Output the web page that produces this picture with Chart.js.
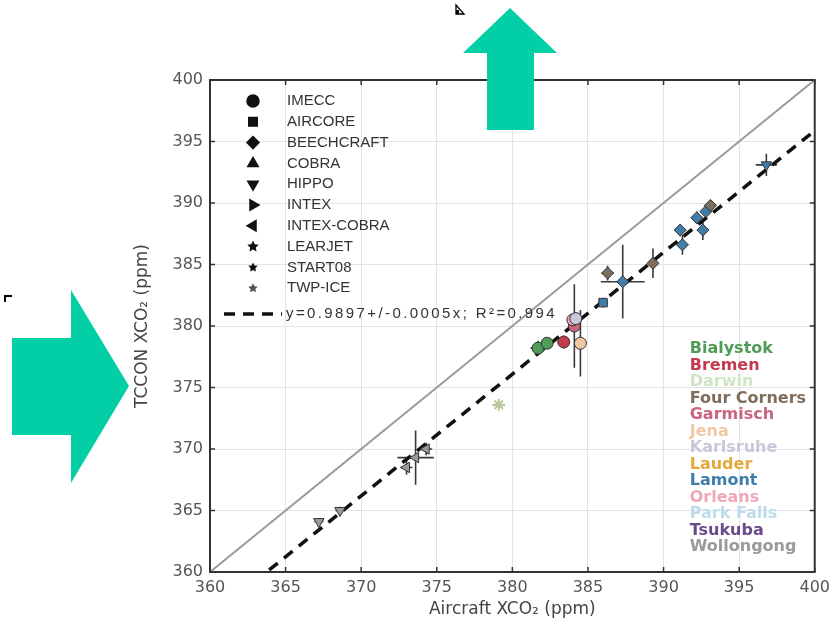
<!DOCTYPE html>
<html>
<head>
<meta charset="utf-8">
<script src="https://cdn.jsdelivr.net/npm/chart.js@4.4.1/dist/chart.umd.min.js"></script>
<style>
    html, body { margin: 0; padding: 0; background: #fff; }
    canvas { display: block; }
</style>
</head>
<body>
<canvas id="graficaXco2" width="836" height="626"></canvas>
<script>
// Sitios TCCON y su color
const sitios = ['Bialystok', 'Bremen', 'Darwin', 'Four Corners', 'Garmisch', 'Jena', 'Karlsruhe',
    'Lauder', 'Lamont', 'Orleans', 'Park Falls', 'Tsukuba', 'Wollongong'];
const coloresSitio = ['#4f9c57', '#c33a4f', '#cfe5c3', '#7e6c5d', '#c9667d', '#f2c8a2', '#cdc6da',
    '#e5a93b', '#3f7ea8', '#f1a8b6', '#bddcea', '#6a4a8b', '#9a9a9a'];

// Campañas de aviones
const campanas = ['IMECC', 'AIRCORE', 'BEECHCRAFT', 'COBRA', 'HIPPO', 'INTEX', 'INTEX-COBRA',
    'LEARJET', 'START08', 'TWP-ICE'];

// Comparaciones (ppm)
const avionX   = [367.2, 368.6, 373.0, 373.6, 374.3, 379.1, 381.7, 382.3, 383.4, 384.1, 384.0, 384.5, 384.2,
    386.0, 386.3, 387.3, 389.3, 391.1, 391.25, 392.2, 392.6, 392.8, 393.1, 396.8];
const tcconY   = [364.1, 365.0, 368.5, 369.3, 370.0, 373.6, 378.2, 378.6, 378.7, 380.0, 380.5, 378.6, 380.6,
    381.9, 384.3, 383.6, 385.1, 387.8, 386.6, 388.8, 387.8, 389.3, 389.8, 393.1];
const errX     = [0.3, 0.3, 0.4, 1.2, 0.4, 0.4, 0.5, 0.4, 0.3, 0.3, 0.3, 0.3, 0.3,
    0.3, 0.4, 1.45, 0.3, 0.3, 0.3, 0.3, 0.3, 0.3, 0.4, 0.7];
const errY     = [0.3, 0.3, 0.6, 2.2, 0.5, 0.2, 0.6, 0.4, 0.5, 3.4, 0.5, 2.7, 0.4,
    0.4, 0.6, 3.0, 1.2, 0.5, 0.8, 0.5, 0.8, 0.4, 0.3, 0.9];
const sitioIdx = [12, 12, 12, 12, 12, 2, 0, 0, 1, 4, 9, 5, 6,
    8, 3, 8, 3, 8, 8, 8, 8, 8, 3, 8];
const campIdx  = [4, 4, 6, 6, 6, 9, 0, 0, 0, 0, 0, 0, 0,
    1, 2, 2, 2, 2, 2, 2, 2, 2, 2, 4];

// Ajuste lineal
const PENDIENTE = 0.9897;
const etiquetaAjuste = 'y=0.9897+/-0.0005x; R²=0.994';

const FUENTE = '"DejaVu Sans", sans-serif';

// forma del marcador por campaña
const estilos = [
    { s: 'circle', r: 0 }, { s: 'rect', r: 0 }, { s: 'rectRot', r: 0 }, { s: 'triangle', r: 0 },
    { s: 'triangle', r: 180 }, { s: 'triangle', r: 90 }, { s: 'triangle', r: 270 },
    { s: 'estrella', r: 0 }, { s: 'estrella', r: 0 }, { s: 'star', r: 0 }
];

const puntos = avionX.map((x, i) => ({ x: x, y: tcconY[i], i: i }));

const estrella = (ctx, cx, cy, r) => {
    ctx.beginPath();
    for (let k = 0; k < 10; k++) {
        const a = -Math.PI / 2 + k * Math.PI / 5;
        const rr = k % 2 ? r * 0.5 : r;
        ctx.lineTo(cx + rr * Math.cos(a), cy + rr * Math.sin(a));
    }
    ctx.closePath();
    ctx.fill();
};

const barrasError = {
    id: 'barrasError',
    beforeDatasetsDraw(chart) {
        const { ctx, scales: { x, y } } = chart;
        ctx.save();
        ctx.strokeStyle = '#3a3a3a';
        ctx.lineWidth = 1.6;
        avionX.forEach((vx, i) => {
            const px = x.getPixelForValue(vx), py = y.getPixelForValue(tcconY[i]);
            ctx.beginPath();
            ctx.moveTo(x.getPixelForValue(vx - errX[i]), py);
            ctx.lineTo(x.getPixelForValue(vx + errX[i]), py);
            ctx.moveTo(px, y.getPixelForValue(tcconY[i] - errY[i]));
            ctx.lineTo(px, y.getPixelForValue(tcconY[i] + errY[i]));
            ctx.stroke();
        });
        ctx.restore();
    }
};

const marcoYLeyendas = {
    id: 'marcoYLeyendas',
    afterDraw(chart) {
        const { ctx, chartArea: a, scales: { x, y } } = chart;
        ctx.save();

        // marco y marcas interiores
        ctx.strokeStyle = '#333';
        ctx.lineWidth = 2;
        ctx.strokeRect(a.left, a.top, a.right - a.left, a.bottom - a.top);
        ctx.lineWidth = 1.5;
        ctx.beginPath();
        x.ticks.forEach(t => {
            const px = x.getPixelForValue(t.value);
            ctx.moveTo(px, a.bottom); ctx.lineTo(px, a.bottom - 5);
            ctx.moveTo(px, a.top); ctx.lineTo(px, a.top + 5);
        });
        y.ticks.forEach(t => {
            const py = y.getPixelForValue(t.value);
            ctx.moveTo(a.left, py); ctx.lineTo(a.left + 5, py);
            ctx.moveTo(a.right, py); ctx.lineTo(a.right - 5, py);
        });
        ctx.stroke();

        // leyenda de campañas
        ctx.font = '15px "Liberation Sans", sans-serif';
        ctx.textBaseline = 'middle';
        campanas.forEach((nombre, k) => {
            const cy = a.top + 21 + k * 20.8;
            const cx = a.left + 43;
            ctx.fillStyle = '#111';
            ctx.strokeStyle = '#111';
            const e = estilos[k];
            if (e.s === 'estrella') {
                estrella(ctx, cx, cy, k === 7 ? 6 : 5);
            } else if (e.s === 'star') {
                ctx.fillStyle = '#555';
                estrella(ctx, cx, cy, 5);
            } else {
                Chart.helpers.drawPoint(ctx, { pointStyle: e.s, radius: 6, rotation: e.r, borderWidth: 1 }, cx, cy);
            }
            ctx.fillStyle = '#333';
            ctx.fillText(nombre, a.left + 77, cy);
        });
        const fy = a.top + 234;
        ctx.strokeStyle = '#111';
        ctx.lineWidth = 3.5;
        ctx.setLineDash([11, 8]);
        ctx.beginPath();
        ctx.moveTo(a.left + 14, fy); ctx.lineTo(a.left + 72, fy);
        ctx.stroke();
        ctx.setLineDash([]);
        ctx.fillStyle = '#333';
        ctx.letterSpacing = '2.4px';
        ctx.fillText(etiquetaAjuste, a.left + 76, fy);
        ctx.letterSpacing = '0px';

        // leyenda de sitios
        ctx.font = 'bold 16px "DejaVu Sans", sans-serif';
        sitios.forEach((nombre, k) => {
            ctx.fillStyle = coloresSitio[k];
            ctx.fillText(nombre, a.right - 125, a.top + 269 + k * 16.5);
        });

        // flechas
        ctx.fillStyle = '#02cfa6';
        ctx.beginPath();
        ctx.moveTo(510, 8); ctx.lineTo(557, 53); ctx.lineTo(534, 53); ctx.lineTo(534, 130);
        ctx.lineTo(487, 130); ctx.lineTo(487, 53); ctx.lineTo(463, 53);
        ctx.closePath(); ctx.fill();
        ctx.beginPath();
        ctx.moveTo(129, 386); ctx.lineTo(71, 483); ctx.lineTo(71, 435); ctx.lineTo(12, 435);
        ctx.lineTo(12, 338); ctx.lineTo(71, 338); ctx.lineTo(71, 290);
        ctx.closePath(); ctx.fill();

        // marcas pequeñas
        ctx.fillStyle = '#000';
        ctx.fillRect(4, 295, 8, 2);
        ctx.fillRect(4, 295, 2, 7);
        ctx.strokeStyle = '#000';
        ctx.lineWidth = 1.3;
        ctx.beginPath();
        ctx.moveTo(456, 5); ctx.lineTo(456, 14); ctx.lineTo(464, 14); ctx.closePath();
        ctx.stroke();
        ctx.fillRect(456, 10, 3, 4);

        ctx.restore();
    }
};

const ejeComun = (titulo) => ({
    type: 'linear',
    min: 360,
    max: 400,
    ticks: { stepSize: 5, color: '#555', font: { family: FUENTE, size: 16 } },
    grid: { color: '#e4e4e4', lineWidth: 1, drawTicks: false },
    border: { display: false },
    title: { display: true, text: titulo, color: '#444', font: { family: FUENTE, size: 17 } }
});

const ejeX = ejeComun('Aircraft XCO₂ (ppm)');
ejeX.ticks.padding = 6;
ejeX.title.padding = { top: 0, bottom: 6 };
ejeX.afterFit = s => { s.height = 54; };

const ejeY = ejeComun('TCCON XCO₂ (ppm)');
ejeY.ticks.padding = 7;
ejeY.title.padding = { top: 4, bottom: 0 };
ejeY.afterFit = s => { s.width = 82; };

new Chart(document.getElementById('graficaXco2').getContext('2d'), {
    type: 'scatter',
    data: {
        datasets: [
            {
                label: 'puntos',
                data: puntos,
                order: 0,
                pointRadius: 6,
                pointHoverRadius: 6,
                pointStyle: c => { const e = estilos[campIdx[c.raw.i]]; return e.s === 'estrella' ? 'star' : e.s; },
                rotation: c => estilos[campIdx[c.raw.i]].r,
                backgroundColor: c => coloresSitio[sitioIdx[c.raw.i]],
                borderColor: c => estilos[campIdx[c.raw.i]].s === 'star' ? '#b9c79a' : '#333',
                borderWidth: c => estilos[campIdx[c.raw.i]].s === 'star' ? 2 : 1
            },
            {
                type: 'line',
                label: '1:1',
                data: [{ x: 360, y: 360 }, { x: 400, y: 400 }],
                order: 2,
                borderColor: '#9a9a9a',
                borderWidth: 2,
                pointRadius: 0
            },
            {
                type: 'line',
                label: 'ajuste',
                data: [{ x: 360, y: 360 * PENDIENTE }, { x: 400, y: 400 * PENDIENTE }],
                order: 1,
                borderColor: '#111',
                borderWidth: 3.5,
                borderDash: [11, 8],
                pointRadius: 0
            }
        ]
    },
    options: {
        responsive: false,
        animation: false,
        layout: { padding: { left: 128, top: 80, right: 18, bottom: 0 } },
        plugins: { legend: { display: false }, tooltip: { enabled: false } },
        scales: { x: ejeX, y: ejeY }
    },
    plugins: [barrasError, marcoYLeyendas]
});
</script>
</body>
</html>
